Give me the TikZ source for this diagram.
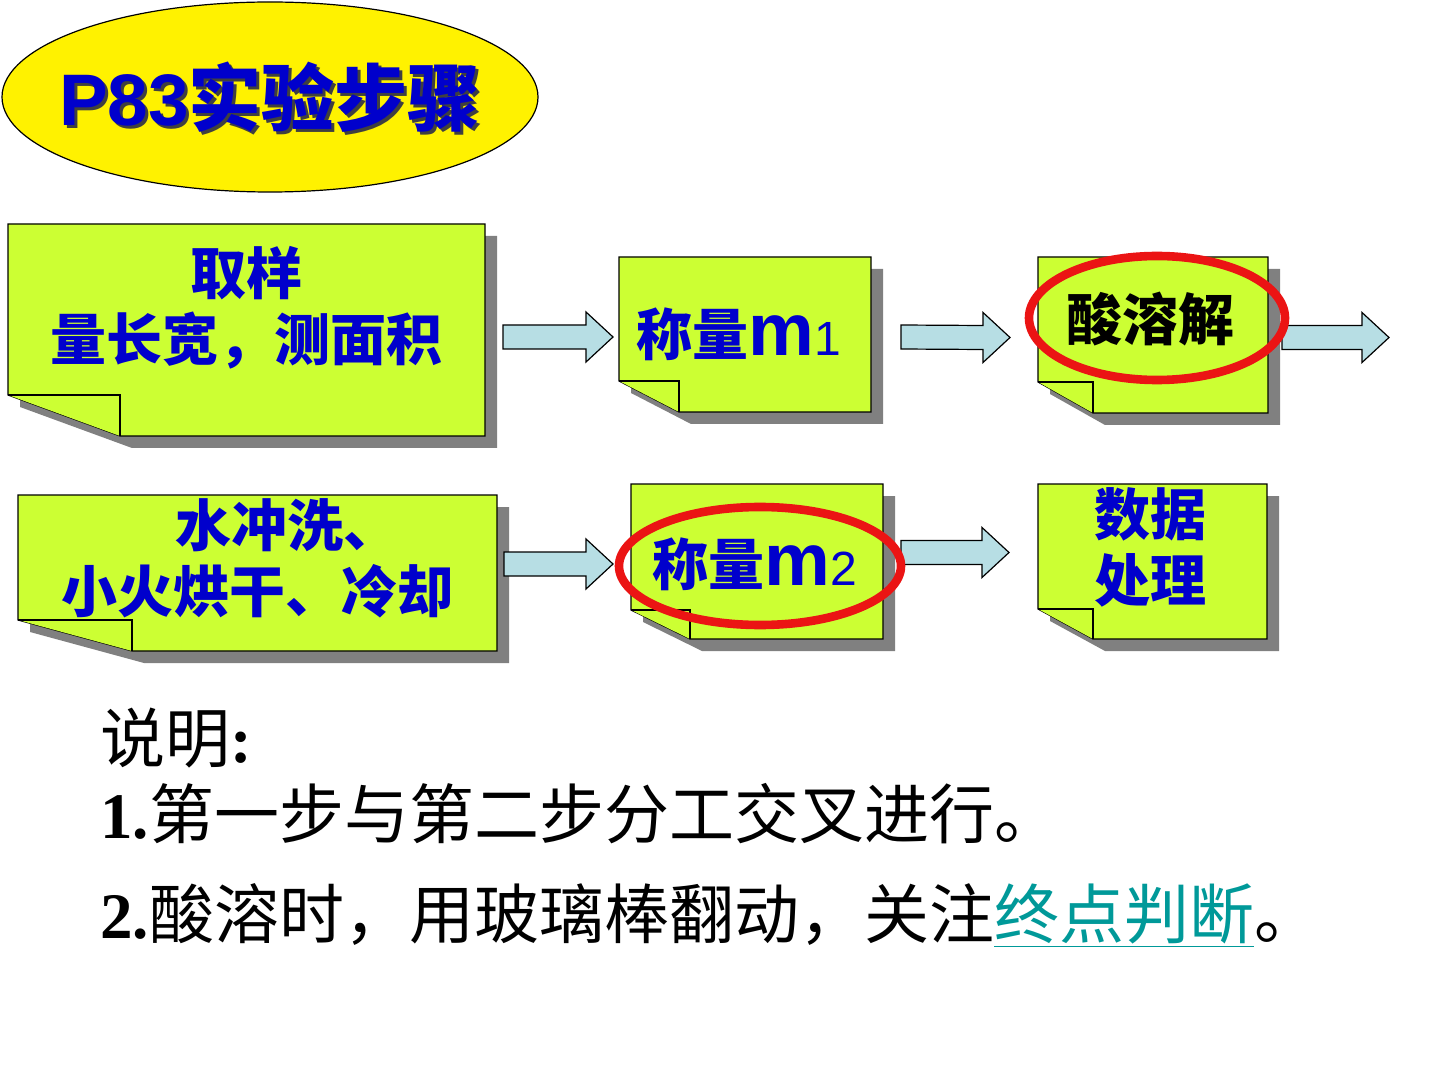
\documentclass[tikz,border=0pt]{standalone}
\usepackage{fontspec}
\setmainfont{Liberation Sans}
\newfontfamily\cjk{Noto Sans CJK SC}
\newfontfamily\latin{Liberation Sans}
\newfontfamily\serifnum{Liberation Serif}
\usetikzlibrary{calc,fit}

\definecolor{notegreen}{RGB}{204,255,51}
\definecolor{notegray}{RGB}{128,128,128}
\definecolor{arrowcyan}{RGB}{183,222,228}
\definecolor{inkblue}{RGB}{0,0,204}
\definecolor{linkteal}{RGB}{0,153,153}
\definecolor{ringred}{RGB}{235,20,20}

\tikzset{
  box/.style={inner sep=0pt,outer sep=0pt},
  noteshadow/.style={fill=notegray},
  notebody/.style={draw=black,fill=notegreen,line width=0.6pt},
  notetxt/.style={text=inkblue,inner sep=0pt,align=center,
    font=\cjk\bfseries\fontsize{28}{33}\selectfont},
  blockfill/.style={draw=black,fill=arrowcyan,line width=0.6pt,line join=miter},
  ring/.style={draw=ringred,line width=4.3pt},
  titletxt/.style={text=inkblue,inner sep=0pt,font=\bfseries\fontsize{36.5}{40}\selectfont},
  bodytxt/.style={inner sep=0pt,anchor=base west,font=\cjk\fontsize{32.5}{38}\selectfont},
}

% folded-corner note around a fitted node: #1 name, #2 fold width, #3 fold height
\newcommand{\foldnote}[3]{%
  \fill[noteshadow] ($(#1.north west)+(12,12)$) -- ($(#1.north east)+(12,12)$)
    -- ($(#1.south east)+(12,12)$) -- ($(#1.south west)+(#2+12,12)$)
    -- ($(#1.south west)+(12,12-#3)$) -- cycle;
  \draw[notebody] (#1.north west) -- (#1.north east) -- (#1.south east)
    -- ($(#1.south west)+(#2,0)$) -- ($(#1.south west)+(0,-#3)$) -- cycle;
  \draw[notebody] ($(#1.south west)+(0,-#3)$) -- ($(#1.south west)+(#2,-#3)$)
    -- ($(#1.south west)+(#2,0)$);
}
% block arrow from #1 to tip #2
\newcommand{\blockarr}[2]{%
  \draw[blockfill] ($#1+(0,-12)$) -- ($#2+(-27,-12)$) -- ($#2+(-27,-25)$) -- #2
    -- ($#2+(-27,25)$) -- ($#2+(-27,12)$) -- ($#1+(0,12)$) -- cycle;
}

\begin{document}
\begin{tikzpicture}[x=0.5pt,y=-0.5pt]
  \path[use as bounding box,fill=white] (0,0) rectangle (1440,1080);

  \draw[fill=yellow,line width=0.6pt] (270,97) ellipse [x radius=268,y radius=95];
  \node[titletxt,text=black!75] (titleshade) at (273,100) {P83{\cjk\bfseries 实验步骤}};
  \node[titletxt] (title) at (270,97) {P83{\cjk\bfseries 实验步骤}};

  \node[box,fit={(8,224) (485,436)}] (A) {};
  \node[box,fit={(619,257) (871,412)}] (B) {};
  \node[box,fit={(1038,257) (1268,413)}] (C) {};
  \node[box,fit={(18,495) (497,651)}] (D) {};
  \node[box,fit={(631,484) (883,639)}] (E) {};
  \node[box,fit={(1038,484) (1267,639)}] (F) {};
  \foldnote{A}{112}{41}
  \foldnote{B}{60}{31}
  \foldnote{C}{55}{31}
  \foldnote{D}{114}{31}
  \foldnote{E}{59}{29}
  \foldnote{F}{55}{30}

  \coordinate (ab) at ($(A.east |- B.west)+(18,2.5)$);
  \coordinate (ba) at ($(B.west)+(-6,2.5)$);
  \coordinate (bc) at ($(B.east)+(30,2.5)$);
  \coordinate (cb) at ($(C.west)+(-28,2.5)$);
  \coordinate (co) at ($(C.east)+(14,2.5)$);
  \coordinate (out) at ($(C.east)+(121,2.5)$);
  \coordinate (de) at ($(D.east |- E.west)+(7,2.5)$);
  \coordinate (ed) at ($(E.west)+(-18,2.5)$);
  \coordinate (ef) at ($(E.east)+(18,-9)$);
  \coordinate (fe) at ($(F.west)+(-29,-9)$);
  \blockarr{(ab)}{(ba)}
  \blockarr{(bc)}{(cb)}
  \blockarr{(co)}{(out)}
  \blockarr{(de)}{(ed)}
  \blockarr{(ef)}{(fe)}

  \node[notetxt] (Atxt) at ($(A)+(0,-22)$) {取样\\量长宽，测面积};
  \node[notetxt] (Btxt) at ($(B)+(-6,0)$)
    {称量{\latin\bfseries\fontsize{37}{37}\selectfont m}{\latin\mdseries\fontsize{24}{24}\selectfont 1}};
  \node[notetxt,text=black] (Ctxt) at ($(C)+(-3,-16)$) {酸溶解};
  \node[notetxt] (Dtxt) at ($(D)+(0,-15)$) {\hspace*{30pt}水冲洗、\\小火烘干、冷却};
  \node[notetxt] (Etxt) at ($(E)+(-2,3)$)
    {称量{\latin\bfseries\fontsize{37}{37}\selectfont m}{\latin\mdseries\fontsize{24}{24}\selectfont 2}};
  \node[notetxt] (Ftxt) at ($(F)+(-2,-14)$) {数据\\处理};

  \draw[ring] (1157,318) ellipse [x radius=128,y radius=62];
  \draw[ring] (760,566) ellipse [x radius=141,y radius=59];

  \node[bodytxt] (note0) at (100,762) {说明{\serifnum\bfseries :}};
  \node[bodytxt] (note1) at (100,838) {{\serifnum\bfseries 1.}第一步与第二步分工交叉进行。};
  \node[bodytxt] (note2) at (100,938)
    {{\serifnum\bfseries 2.}酸溶时，用玻璃棒翻动，关注\textcolor{linkteal}{\underline{终点判断}}。};
\end{tikzpicture}
\end{document}
